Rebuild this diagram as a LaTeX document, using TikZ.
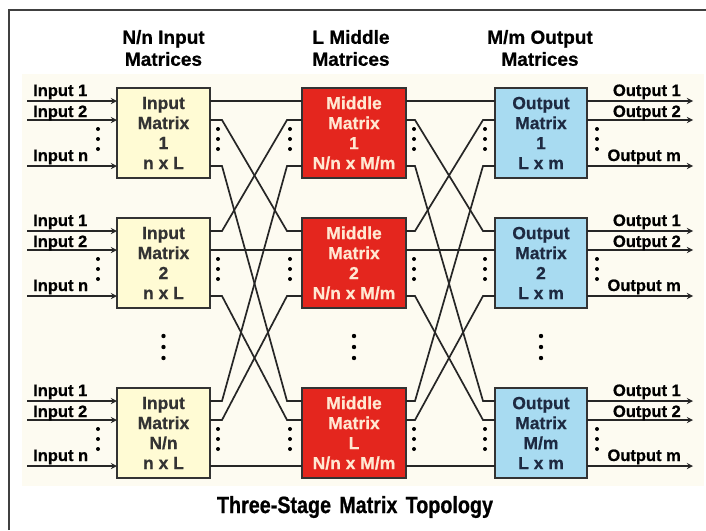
\documentclass[tikz,border=0pt]{standalone}
\usepackage{fontspec}
\setmainfont{Liberation Sans}[BoldFeatures={FakeBold=0.6}]
\newfontfamily\titlefont{Liberation Sans}[FakeStretch=0.84,BoldFeatures={FakeBold=0.8}]
\definecolor{inbox}{RGB}{255,251,212}
\definecolor{midbox}{RGB}{228,38,30}
\definecolor{outbox}{RGB}{168,219,241}
\definecolor{midtext}{RGB}{255,232,210}
\definecolor{outtext}{RGB}{30,42,66}
\definecolor{backcream}{RGB}{253,251,241}
\begin{document}
\begin{tikzpicture}[x=1pt,y=-1pt,>=stealth,
  matrixbox/.style={draw=black!80,line width=1.8pt,minimum height=90pt,inner sep=0pt,outer sep=0pt,
    align=center,font=\bfseries\fontsize{17.5}{20}\selectfont},
  inmatrix/.style={matrixbox,fill=inbox,text=black!80,minimum width=93pt},
  midmatrix/.style={matrixbox,fill=midbox,text=midtext,minimum width=104pt},
  outmatrix/.style={matrixbox,fill=outbox,text=outtext,minimum width=92pt},
  wire/.style={line width=1.7pt,black!85},
  headline/.style={align=center,font=\bfseries\fontsize{19}{22}\selectfont},
  portlabel/.style={inner sep=0pt,font=\bfseries\fontsize{16.5}{18}\selectfont}]
\useasboundingbox (0,0) rectangle (706,530);
\fill[backcream] (22,74) rectangle (704,486);
\draw[line width=1.8pt,black!75] (9,530) -- (9,10) -- (706,10);

\node[headline] (hin) at (163.5,48) {N/n Input\\Matrices};
\node[headline] (hmid) at (351,48) {L Middle\\Matrices};
\node[headline] (hout) at (540,48) {M/m Output\\Matrices};

\node[inmatrix] (in1) at (163.5,133) {Input\\Matrix\\1\\n x L};
\node[inmatrix] (in2) at (163.5,263) {Input\\Matrix\\2\\n x L};
\node[inmatrix] (in3) at (163.5,433) {Input\\Matrix\\N/n\\n x L};
\node[midmatrix] (mid1) at (354,133) {Middle\\Matrix\\1\\N/n x M/m};
\node[midmatrix] (mid2) at (354,263) {Middle\\Matrix\\2\\N/n x M/m};
\node[midmatrix] (mid3) at (354,433) {Middle\\Matrix\\L\\N/n x M/m};
\node[outmatrix] (out1) at (541,133) {Output\\Matrix\\1\\L x m};
\node[outmatrix] (out2) at (541,263) {Output\\Matrix\\2\\L x m};
\node[outmatrix] (out3) at (541,433) {Output\\Matrix\\M/m\\L x m};

\foreach \r in {1,2,3}
  \foreach \p/\d in {1/13,2/32,3/78} {
    \foreach \c in {in,mid,out} {
      \coordinate (\c\r-i\p) at ([yshift=-\d pt]\c\r.north west);
      \coordinate (\c\r-o\p) at ([yshift=-\d pt]\c\r.north east);
    }
    \coordinate (src\r-\p) at ([xshift=-90pt]in\r-i\p);
    \coordinate (dst\r-\p) at ([xshift=106pt]out\r-o\p);
  }

\foreach \r in {1,2,3}
  \foreach \p in {1,2,3} {
    \draw[wire,->] (src\r-\p) -- (in\r-i\p);
    \draw[wire,->] (out\r-o\p) -- (dst\r-\p);
    \draw[wire] (in\r-o\p) -- ++(12,0) -- ([xshift=-15pt]mid\p-i\r) -- (mid\p-i\r);
    \draw[wire] (mid\r-o\p) -- ++(9,0) -- ([xshift=-12pt]out\p-i\r) -- (out\p-i\r);
  }

\foreach \r in {1,2,3} {
  \node[portlabel,anchor=base west] (lin\r-1) at ([xshift=6pt,yshift=5pt]src\r-1) {Input 1};
  \node[portlabel,anchor=base west] (lin\r-2) at ([xshift=6pt,yshift=3pt]src\r-2) {Input 2};
  \node[portlabel,anchor=base west] (lin\r-3) at ([xshift=6pt,yshift=5pt]src\r-3) {Input n};
  \node[portlabel,anchor=base east] (lout\r-1) at ([xshift=-12pt,yshift=5pt]dst\r-1) {Output 1};
  \node[portlabel,anchor=base east] (lout\r-2) at ([xshift=-12pt,yshift=3pt]dst\r-2) {Output 2};
  \node[portlabel,anchor=base east] (lout\r-3) at ([xshift=-12pt,yshift=5pt]dst\r-3) {Output m};
}

\foreach \x in {98,218,290,414,485,597}
  \foreach \y in {129,259,429}
    \foreach \d in {0,10,20}
      \fill (\x,\y+\d) circle (2pt);
\foreach \x in {163.5,354,541}
  \foreach \y in {336,347,358}
    \fill (\x,\y) circle (2.2pt);

\node[font=\titlefont\bfseries\fontsize{23.5}{26}\selectfont] (title) at (355,507)
  {Three-Stage\hspace{0.35em}Matrix\hspace{0.35em}Topology};
\end{tikzpicture}
\end{document}
